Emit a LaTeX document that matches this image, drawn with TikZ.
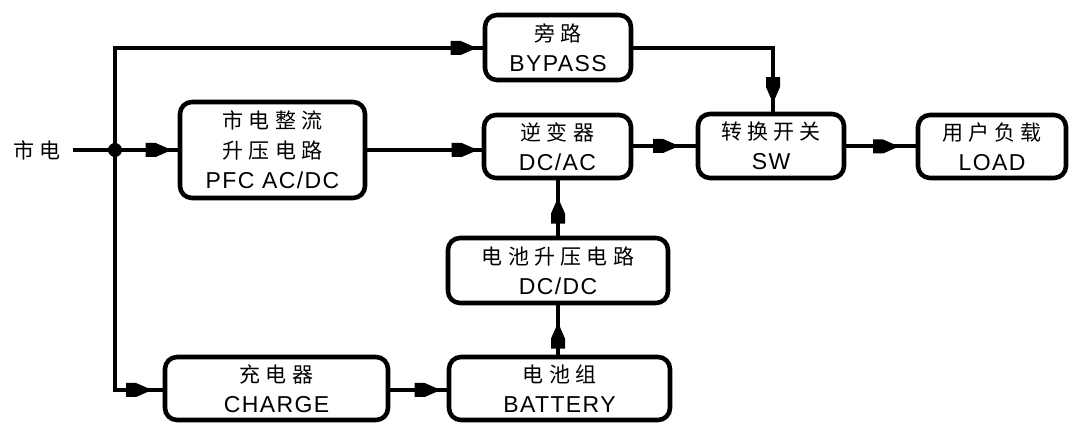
\documentclass[tikz,border=0pt]{standalone}
\usepackage{fontspec}
\setmainfont{Liberation Sans}
\newfontfamily\cjkfont[LetterSpace=25]{Noto Sans CJK SC}
\newfontfamily\latfont[LetterSpace=6]{Liberation Sans}
\usetikzlibrary{decorations.markings}
\newcommand\zhtxt[1]{{\cjkfont\fontsize{15.75pt}{22.5pt}\selectfont #1}}
\newcommand\entxt[1]{{\latfont\fontsize{17.25pt}{22.5pt}\selectfont #1}}
\tikzset{
  blk/.style={draw, line width=3.4pt, rounded corners=9pt, inner sep=0pt, align=center,
    font=\fontsize{17.25pt}{22.5pt}\selectfont},
  conn/.style={line width=3pt},
  tipat/.style={postaction={decorate}, decoration={markings,
     mark=at position -#1 with {\fill (-19.5pt,-5.25pt) -- (-12pt,-5.25pt) -- (0pt,0pt) -- (-12pt,5.25pt) -- (-19.5pt,5.25pt) -- cycle;}}},
}
\begin{document}
\begin{tikzpicture}[x=0.75pt,y=-0.75pt]
\useasboundingbox (0,0) rectangle (1072,423);
% boxes
\node[blk, minimum width=109.5pt, minimum height=48.75pt] (byp) at (558,47.5) {\zhtxt{旁路}\\\entxt{BYPASS}};
\node[blk, minimum width=138.75pt, minimum height=72pt] (pfc) at (272.5,150) {\zhtxt{市电整流}\\\zhtxt{升压电路}\\\entxt{PFC AC/DC}};
\node[blk, minimum width=110.25pt, minimum height=47.25pt] (inv) at (557.5,146.5) {\zhtxt{逆变器}\\\entxt{DC/AC}};
\node[blk, minimum width=109.5pt, minimum height=48pt] (sw) at (771,146) {\zhtxt{转换开关}\\\entxt{SW}};
\node[blk, minimum width=111pt, minimum height=47.25pt] (load) at (992,146.5) {\zhtxt{用户负载}\\\entxt{LOAD}};
\node[blk, minimum width=165pt, minimum height=48.75pt] (dcdc) at (558,270.5) {\zhtxt{电池升压电路}\\\entxt{DC/DC}};
\node[blk, minimum width=167.25pt, minimum height=47.25pt] (chg) at (276.5,388.5) {\zhtxt{充电器}\\\entxt{CHARGE}};
\node[blk, minimum width=165.75pt, minimum height=47.25pt] (bat) at (559.5,388.5) {\zhtxt{电池组}\\\entxt{BATTERY}};
% input
\node[inner sep=0pt] (mains) at (37,150) {\zhtxt{市电}};
\coordinate (j) at (115,150);
\coordinate (tl) at (115,48);
\coordinate (bl) at (115,390);
\coordinate (bsw) at (773,48);
% connectors
\draw[conn] ([xshift=9pt]mains.east) -- (j);
\draw[conn, tipat=4.5pt] (j) -- (pfc.west |- j);
\draw[conn, tipat=4.5pt] (j) -- (tl) -- (byp.west |- tl);
\draw[conn, tipat=8pt] (j) -- (bl) -- (chg.west |- bl);
\fill (j) circle (5.25pt);
\draw[conn, tipat=3pt] (pfc.east |- j) -- (inv.west |- j);
\draw[conn, tipat=6.5pt] (byp.east |- bsw) -- (bsw) -- (bsw |- sw.north);
\draw[conn, tipat=12.5pt] (inv.east |- sw.west) -- (sw.west);
\draw[conn, tipat=12.5pt] (sw.east |- load.west) -- (load.west);
\draw[conn, tipat=4.5pt] (chg.east |- bl) -- (bat.west |- bl);
\draw[conn, tipat=13pt] (dcdc.south |- bat.north) -- (dcdc.south);
\draw[conn, tipat=13pt] (dcdc.north) -- (dcdc.north |- inv.south);
\end{tikzpicture}
\end{document}
